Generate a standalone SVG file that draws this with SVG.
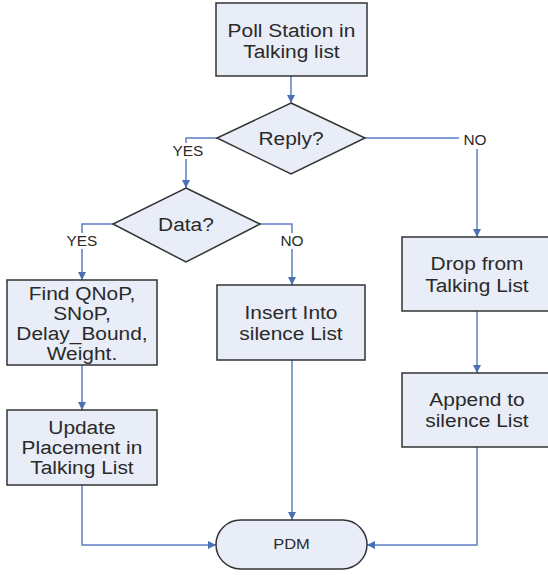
<svg xmlns="http://www.w3.org/2000/svg" width="548" height="575" viewBox="0 0 548 575">
<style>
.box{fill:#e9edf7;stroke:#333;stroke-width:1.5}
.t{font-family:"Liberation Sans",Arial,sans-serif;font-size:19px;fill:#2a2a2a;text-anchor:middle;dominant-baseline:central;transform-box:fill-box;transform-origin:center;transform:scaleX(1.1)}
.pdm{font-size:15px}
.lbl{font-family:"Liberation Sans",Arial,sans-serif;font-size:14px;fill:#2a2a2a;text-anchor:middle;dominant-baseline:central;transform-box:fill-box;transform-origin:center;transform:scaleX(1.1)}
.c{fill:none;stroke:#5b7fc4;stroke-width:1.5}
</style>
<defs>
<marker id="ah" viewBox="0 0 10 10" refX="10" refY="5" markerWidth="8" markerHeight="8" markerUnits="userSpaceOnUse" orient="auto">
<path d="M0,0 L10,5 L0,10 z" fill="#4a6fb5"/>
</marker>
</defs>
<rect width="548" height="575" fill="#fff"/>
<g id="connectors">
<path class="c" d="M291,76 V103" marker-end="url(#ah)"/>
<path class="c" d="M217,138 H186 V188" marker-end="url(#ah)"/>
<path class="c" d="M365,138 H477 V237" marker-end="url(#ah)"/>
<path class="c" d="M113,224 H82 V280" marker-end="url(#ah)"/>
<path class="c" d="M260,224 H292 V285" marker-end="url(#ah)"/>
<path class="c" d="M82,365 V410" marker-end="url(#ah)"/>
<path class="c" d="M477,311 V373" marker-end="url(#ah)"/>
<path class="c" d="M292,360 V520" marker-end="url(#ah)"/>
<path class="c" d="M82,485 V545 H216" marker-end="url(#ah)"/>
<path class="c" d="M477,447 V545 H367" marker-end="url(#ah)"/>
<rect x="171" y="143" width="34" height="16" fill="#fff"/>
<text class="lbl" x="188" y="151">YES</text>
<rect x="65" y="233" width="34" height="16" fill="#fff"/>
<text class="lbl" x="82" y="241">YES</text>
<rect x="278" y="233" width="28" height="16" fill="#fff"/>
<text class="lbl" x="292" y="241">NO</text>
<rect x="459" y="132" width="32" height="17" fill="#fff"/>
<text class="lbl" x="475" y="140">NO</text>
</g>
<g id="poll">
<rect class="box" x="216" y="3" width="151" height="73"/>
<text class="t" x="291.5" y="30">Poll Station in</text>
<text class="t" x="291.5" y="51">Talking list</text>
</g>
<g id="reply">
<polygon class="box" points="291,103 365,138 291,174 217,138"/>
<text class="t" x="291" y="138">Reply?</text>
</g>
<g id="data">
<polygon class="box" points="186,188 260,224 186,262 113,224"/>
<text class="t" x="186" y="224">Data?</text>
</g>
<g id="find">
<rect class="box" x="7" y="280" width="150" height="85"/>
<text class="t" x="82" y="293">Find QNoP,</text>
<text class="t" x="82" y="313">SNoP,</text>
<text class="t" x="82" y="333">Delay_Bound,</text>
<text class="t" x="82" y="353">Weight.</text>
</g>
<g id="update">
<rect class="box" x="7" y="410" width="150" height="75"/>
<text class="t" x="82" y="427">Update</text>
<text class="t" x="82" y="447">Placement in</text>
<text class="t" x="82" y="467">Talking List</text>
</g>
<g id="insert">
<rect class="box" x="217" y="285" width="148" height="75"/>
<text class="t" x="291" y="312">Insert Into</text>
<text class="t" x="291" y="333">silence List</text>
</g>
<g id="drop">
<rect class="box" x="402" y="237" width="150" height="74"/>
<text class="t" x="477" y="263">Drop from</text>
<text class="t" x="477" y="285">Talking List</text>
</g>
<g id="append">
<rect class="box" x="402" y="373" width="150" height="74"/>
<text class="t" x="477" y="399">Append to</text>
<text class="t" x="477" y="420">silence List</text>
</g>
<g id="pdm">
<rect class="box" x="216" y="520" width="151" height="49" rx="24.5" ry="24.5"/>
<text class="t pdm" x="291.5" y="544">PDM</text>
</g>
</svg>
